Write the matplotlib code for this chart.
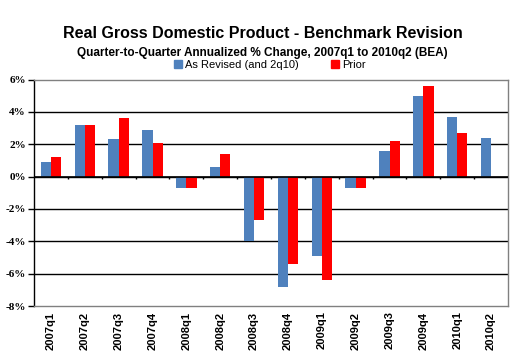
import matplotlib
matplotlib.use("Agg")
import matplotlib.pyplot as plt
import numpy as np
from matplotlib.patches import Patch

quarters = ["2007q1", "2007q2", "2007q3", "2007q4", "2008q1", "2008q2", "2008q3",
            "2008q4", "2009q1", "2009q2", "2009q3", "2009q4", "2010q1", "2010q2"]
revised = [0.9, 3.2, 2.3, 2.9, -0.7, 0.6, -4.0, -6.8, -4.9, -0.7, 1.6, 5.0, 3.7, 2.4]
prior = [1.2, 3.2, 3.6, 2.1, -0.7, 1.4, -2.7, -5.4, -6.4, -0.7, 2.2, 5.6, 2.7, np.nan]
yticks = [-8, -6, -4, -2, 0, 2, 4, 6]

blue = "#4F81BD"
red = "#FF0000"

fig = plt.figure(figsize=(5.16, 3.58), dpi=100)
W, H = 516, 358
left, right, top, bottom = 34, 508, 79.5, 306
ax = fig.add_axes([left / W, 1 - bottom / H, (right - left) / W, (bottom - top) / H])

x = np.arange(len(quarters))
bw = 0.3
ax.bar(x - bw / 2, revised, bw, color=blue, zorder=3)
ax.bar(x + bw / 2, prior, bw, color=red, zorder=3)

ax.set_xlim(-0.5, len(quarters) - 0.5)
ax.set_ylim(-8, 6)
ax.set_yticks(yticks)
ax.set_yticklabels([f"{v}%" for v in yticks], family="Liberation Serif",
                   fontweight="bold", fontsize=8)
for v in yticks:
    if v not in (-8, 6):
        ax.axhline(v, color="black", lw=1, zorder=1)
ax.axhline(0, color="black", lw=1.2, zorder=4)
# category boundary ticks on the zero line
bounds = np.arange(len(quarters) - 1) + 0.5
ax.vlines(bounds, 0, -0.16, color="black", lw=1, zorder=4)

ax.set_xticks(x)
ax.set_xticklabels(quarters, rotation=90, family="Liberation Sans",
                   fontweight="bold", fontsize=8)
ax.tick_params(axis="x", length=0, pad=4)
ax.tick_params(axis="y", direction="out", length=4, width=1, pad=2)

for s in ["top", "right", "bottom"]:
    ax.spines[s].set_color("#808080")
    ax.spines[s].set_linewidth(1)
ax.spines["left"].set_color("black")
ax.spines["left"].set_linewidth(1)

fig.text(263 / W, 1 - 34 / H, "Real Gross Domestic Product - Benchmark Revision",
         ha="center", va="center", family="Liberation Sans", fontweight="bold", fontsize=11.5)
fig.text(262 / W, 1 - 53 / H,
         "Quarter-to-Quarter Annualized % Change, 2007q1 to 2010q2 (BEA)",
         ha="center", va="center", family="Liberation Sans", fontweight="bold", fontsize=8.5)

handles = [Patch(color=blue, label="As Revised (and 2q10)"), Patch(color=red, label="Prior")]
fig.legend(handles=handles, loc="center", bbox_to_anchor=(270 / W, 1 - 65 / H), ncol=2,
           frameon=False, prop={"family": "Liberation Sans", "size": 8},
           handlelength=0.7, handleheight=0.7, handletextpad=0.3, columnspacing=2.9,
           borderpad=0)

fig.savefig("out.png", dpi=100)
